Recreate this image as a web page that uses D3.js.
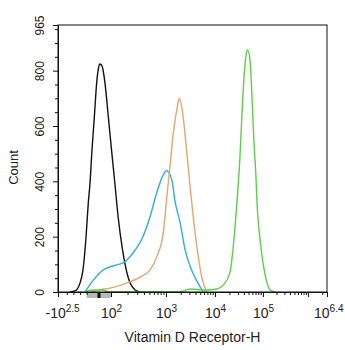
<!DOCTYPE html>
<html>
<head>
<meta charset="utf-8">
<script src="https://cdn.jsdelivr.net/npm/d3@7"></script>
<style>
  body { margin: 0; background: #fff; }
  text { font-family: "Liberation Sans", Arial, sans-serif; fill: #222; }
</style>
</head>
<body>
<svg id="chart" width="345" height="350"></svg>
<script>
// Histogram samples. Positions are on the biexponential display axis:
// linear below 10^2 (1 unit = 100 events of intensity), one unit per decade above it.
const blackPos   = [-2.26, -1.88, -1.50, -1.28, -1.05, -0.87, -0.73, -0.57, -0.38, -0.19, -0.04, 0.08, 0.25, 0.50, 0.78, 1.01, 1.07, 1.13, 1.21, 1.31, 1.44, 1.53];
const blackCount = [0, 4, 33, 80, 199, 322, 394, 513, 632, 755, 810, 824, 817, 755, 632, 513, 394, 271, 152, 54, 7, 0];

const cyanPos   = [-1.13, -0.46, 0.36, 0.92, 1.10, 1.22, 1.40, 1.58, 1.71, 1.83, 1.95, 2.01, 2.12, 2.18, 2.29, 2.39, 2.52, 2.65, 2.76];
const cyanCount = [0, 43, 80, 91, 98, 105, 141, 200, 272, 358, 423, 438, 405, 332, 249, 152, 80, 33, 0];

const orangePos   = [-0.61, 0.30, 0.92, 1.29, 1.53, 1.71, 1.83, 1.95, 2.01, 2.08, 2.15, 2.22, 2.27, 2.34, 2.42, 2.52, 2.62, 2.73, 2.83];
const orangeCount = [0, 10, 14, 33, 54, 80, 126, 213, 332, 452, 575, 658, 700, 647, 513, 332, 177, 54, 0];

const greenPos   = [-1.13, -0.47, 0.25, 0.92, 2.29, 2.49, 2.80, 3.04, 3.17, 3.31, 3.38, 3.45, 3.52, 3.57, 3.61, 3.66, 3.68, 3.73, 3.78, 3.81, 3.85, 3.88, 3.94, 4.04, 4.16, 4.27];
const greenCount = [0, 7, 7, 0, 0, 11, 7, 11, 25, 69, 163, 307, 488, 669, 790, 868, 875, 838, 669, 548, 430, 309, 188, 68, 7, 0];

// Y axis
const yMax = 965;
const yTickValues = [0, 200, 400, 600, 800, 965];

// X axis: labelled ticks (intensity), mantissa/exponent text
const xTickValues = [-Math.pow(10, 2.5), 100, 1e3, 1e4, 1e5, Math.pow(10, 6.4)];
const xTickBase = ["-10", "10", "10", "10", "10", "10"];
const xTickExp  = ["2.5", "2", "3", "4", "5", "6.4"];

// Anchor intensities of the biexponential axis and where they sit along its width
const axisStops = [-Math.pow(10, 2.5), -100, 0, 100, 1e3, 1e4, 1e5, 1e6, Math.pow(10, 6.4)];
const axisFrac  = [0, 0.1067, 0.1524, 0.197, 0.4015, 0.5836, 0.762, 0.929, 1];

const series = [
  { name: "isotype",  pos: blackPos,  count: blackCount,  color: "#111111" },
  { name: "sample1",  pos: cyanPos,   count: cyanCount,   color: "#2faed8" },
  { name: "sample2",  pos: orangePos, count: orangeCount, color: "#e8a46c" },
  { name: "sample3",  pos: greenPos,  count: greenCount,  color: "#5ccf48" }
];

const width = 345, height = 350;
const margin = { top: 25, right: 18, bottom: 58, left: 58 };
const W = width - margin.left - margin.right;
const H = height - margin.top - margin.bottom;

// intensity -> display units
const display = v => v <= 100 ? v / 100 : 1 + Math.log10(v / 100);

const x = d3.scaleLinear()
  .domain(axisStops.map(display))
  .range(axisFrac.map(f => f * W));
const xi = v => x(display(v));   // intensity -> pixel
const y = d3.scaleLinear().domain([0, yMax]).range([H, 0]);

const svg = d3.select("#chart");
const g = svg.append("g").attr("transform", `translate(${margin.left},${margin.top})`);

// linear-region marker under the x axis
g.append("rect")
  .attr("x", xi(-100)).attr("y", H + 1)
  .attr("width", xi(100) - xi(-100)).attr("height", 5)
  .attr("fill", "#b8b8b8");
g.append("rect")
  .attr("x", xi(0) - 1.5).attr("y", H + 1)
  .attr("width", 3).attr("height", 5)
  .attr("fill", "#111");

// histogram traces
const line = d3.line()
  .x(d => x(d[0]))
  .y(d => y(d[1]))
  .curve(d3.curveMonotoneX);

series.forEach(s => {
  const pts = s.pos.map((p, i) => [p, s.count[i]]);
  g.append("path")
    .datum(pts)
    .attr("fill", "none")
    .attr("stroke", s.color)
    .attr("stroke-width", 1.4)
    .attr("stroke-linejoin", "round")
    .attr("d", line);
});

// frame
g.append("rect")
  .attr("x", 0).attr("y", 0).attr("width", W).attr("height", H)
  .attr("fill", "none").attr("stroke", "#111").attr("stroke-width", 1);

// y axis: minor ticks every 50, labelled major ticks
const yMinor = d3.range(50, yMax, 50).filter(v => v % 200 !== 0);
g.append("g")
  .call(d3.axisLeft(y).tickValues(yMinor).tickSize(3).tickFormat(""))
  .call(a => a.select(".domain").remove())
  .selectAll("line").attr("stroke", "#111");

const yAxis = g.append("g")
  .call(d3.axisLeft(y).tickValues(yTickValues).tickSize(5).tickSizeOuter(0));
yAxis.select(".domain").attr("stroke", "#111");
yAxis.selectAll("line").attr("stroke", "#111");
yAxis.selectAll("text")
  .attr("transform", "rotate(-90)")
  .attr("x", 0).attr("y", -14).attr("dy", null)
  .attr("text-anchor", "middle")
  .style("font-size", "12px")
  .style("font-family", "'Liberation Sans', Arial, sans-serif")
  .attr("fill", "#222");

// x axis: minor ticks
const xMinor = [-250, -200, -150, -100];
for (let k = 2; k <= 6; k++) {
  for (let m = 2; m <= 9; m++) {
    const v = m * Math.pow(10, k);
    if (v < Math.pow(10, 6.4)) xMinor.push(v);
  }
}
g.append("g")
  .attr("transform", `translate(0,${H})`)
  .call(d3.axisBottom(x).tickValues(xMinor.map(display)).tickSize(3).tickFormat(""))
  .call(a => a.select(".domain").remove())
  .selectAll("line").attr("stroke", "#111");

// x axis: major ticks (including 10^6 unlabelled)
g.append("g")
  .attr("transform", `translate(0,${H})`)
  .call(d3.axisBottom(x).tickValues([1e6].map(display)).tickSize(5).tickFormat(""))
  .call(a => a.select(".domain").remove())
  .selectAll("line").attr("stroke", "#111");

const xAxis = g.append("g")
  .attr("transform", `translate(0,${H})`)
  .call(d3.axisBottom(x).tickValues(xTickValues.map(display)).tickSize(5).tickSizeOuter(0).tickFormat(""));
xAxis.select(".domain").attr("stroke", "#111");
xAxis.selectAll("line").attr("stroke", "#111");
xAxis.selectAll("text").each(function(d, i) {
  const t = d3.select(this)
    .attr("y", 26).attr("dy", null)
    .style("font-size", "14px")
    .style("font-family", "'Liberation Sans', Arial, sans-serif")
    .attr("fill", "#222");
  t.append("tspan").text(xTickBase[i]);
  t.append("tspan").attr("dy", -6).style("font-size", "10px").text(xTickExp[i]);
  if (i === 0) t.attr("text-anchor", "start").attr("x", -13);
  if (i === xTickValues.length - 1) t.attr("text-anchor", "end").attr("x", 16);
});

// axis titles
svg.append("text")
  .attr("x", margin.left + W / 2).attr("y", 342)
  .attr("text-anchor", "middle")
  .style("font-size", "14px")
  .text("Vitamin D Receptor-H");

svg.append("text")
  .attr("transform", `translate(18,${margin.top + H / 2 + 9}) rotate(-90)`)
  .attr("text-anchor", "middle")
  .style("font-size", "13px")
  .text("Count");
</script>
</body>
</html>
